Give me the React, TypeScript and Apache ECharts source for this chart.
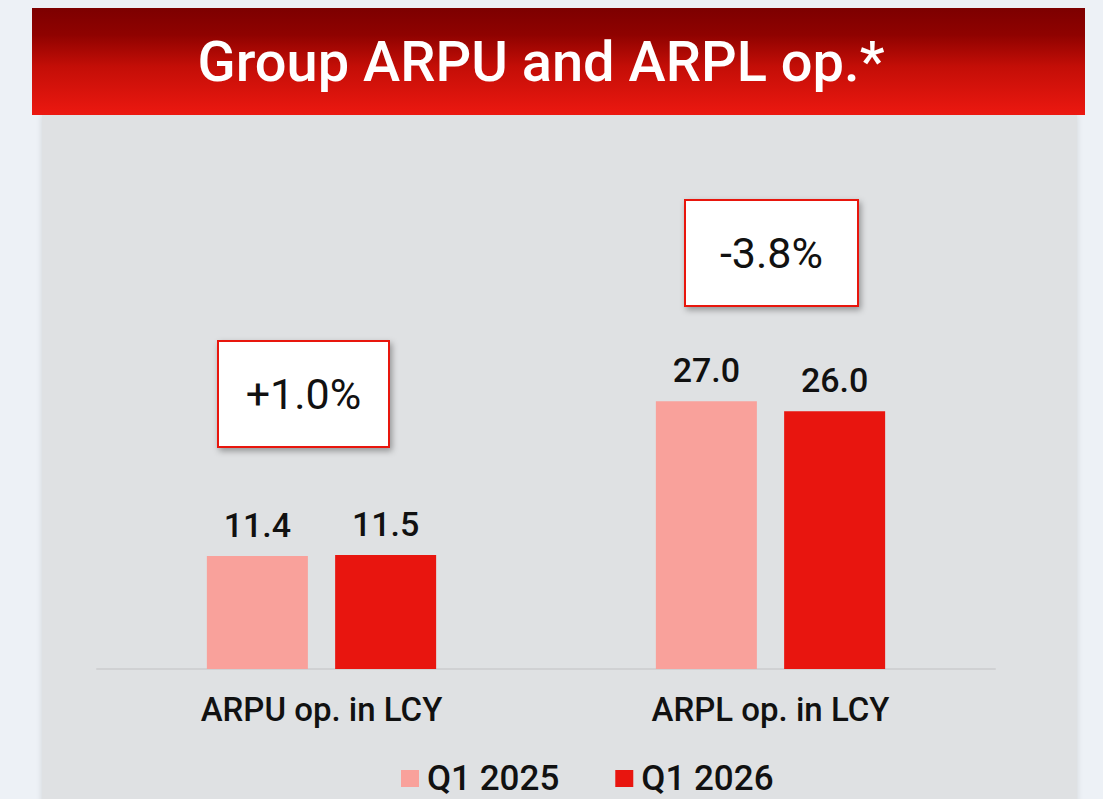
import React, { useEffect, useRef } from "react";
import * as echarts from "echarts";

const categories = ["ARPU op. in LCY", "ARPL op. in LCY"];
const q1_2025 = [11.4, 27.0];
const q1_2026 = [11.5, 26.0];
const changeLabels = ["+1.0%", "-3.8%"];
const seriesNames = ["Q1 2025", "Q1 2026"];
const titleText = "Group ARPU and ARPL op.*";

const LIGHT = "#f9a19b";
const RED = "#e8150f";
const FONT = "Roboto, 'Noto Sans', sans-serif";

export default function App() {
  const ref = useRef<HTMLDivElement>(null);
  useEffect(() => {
    const chart = echarts.init(ref.current!, null, { renderer: "svg" });
    const boxes = [
      { x: 218, y: 341, w: 171, h: 106 },
      { x: 685, y: 200, w: 173, h: 106 },
    ];
    chart.setOption({
      animation: false,
      backgroundColor: "#edf1f6",
      graphic: [
        {
          type: "rect",
          z: -10,
          shape: { x: 42, y: 115, width: 1035, height: 700 },
          style: {
            fill: "#dfe1e3",
            shadowBlur: 6,
            shadowColor: "rgba(0,0,0,0.12)",
            shadowOffsetX: 0,
          },
        },
        {
          type: "rect",
          z: 10,
          shape: { x: 32, y: 8, width: 1053, height: 107 },
          style: {
            fill: new echarts.graphic.LinearGradient(0, 0, 0, 1, [
              { offset: 0, color: "#7d0000" },
              { offset: 0.25, color: "#8f0200" },
              { offset: 0.55, color: "#c40e07" },
              { offset: 1, color: "#ec1810" },
            ]),
          },
        },
        {
          type: "text",
          z: 11,
          x: 541,
          y: 62,
          style: {
            text: titleText,
            fill: "#ffffff",
            font: `500 56px ${FONT}`,
            align: "center",
            verticalAlign: "middle",
          },
        },
        ...boxes.map((b, i) => ({
          type: "group",
          z: 20,
          children: [
            {
              type: "rect",
              shape: { x: b.x, y: b.y, width: b.w, height: b.h },
              style: {
                fill: "#ffffff",
                stroke: RED,
                lineWidth: 2,
                shadowBlur: 6,
                shadowColor: "rgba(0,0,0,0.35)",
                shadowOffsetX: 2,
                shadowOffsetY: 3,
              },
            },
            {
              type: "text",
              x: b.x + b.w / 2,
              y: b.y + b.h / 2,
              style: {
                text: changeLabels[i],
                fill: "#111111",
                font: `400 43px ${FONT}`,
                align: "center",
                verticalAlign: "middle",
              },
            },
          ],
        })),
      ],
      grid: { left: 97, right: 108, top: 74, bottom: 130 },
      xAxis: {
        type: "category",
        data: categories,
        axisLine: { lineStyle: { color: "#d0d1d3", width: 2 } },
        axisTick: { show: false },
        axisLabel: {
          color: "#111111",
          fontFamily: FONT,
          fontWeight: 500,
          fontSize: 33,
          margin: 24,
        },
      },
      yAxis: {
        type: "value",
        min: 0,
        max: 60,
        show: false,
        splitLine: { show: false },
      },
      legend: {
        data: seriesNames,
        left: 396,
        top: 756,
        itemWidth: 18,
        itemHeight: 17,
        itemGap: 56,
        icon: "rect",
        textStyle: {
          color: "#111111",
          fontFamily: FONT,
          fontWeight: 500,
          fontSize: 35,
          padding: [0, 0, 0, 3],
        },
      },
      series: [
        {
          name: seriesNames[0],
          type: "bar",
          data: q1_2025,
          barWidth: 101,
          barGap: "27%",
          itemStyle: { color: LIGHT },
          label: {
            show: true,
            position: "top",
            distance: 14,
            color: "#111111",
            fontFamily: FONT,
            fontWeight: 500,
            fontSize: 34,
            formatter: (p: any) => p.value.toFixed(1),
          },
        },
        {
          name: seriesNames[1],
          type: "bar",
          data: q1_2026,
          barWidth: 101,
          itemStyle: { color: RED },
          label: {
            show: true,
            position: "top",
            distance: 14,
            color: "#111111",
            fontFamily: FONT,
            fontWeight: 500,
            fontSize: 34,
            formatter: (p: any) => p.value.toFixed(1),
          },
        },
      ],
    });
    return () => chart.dispose();
  }, []);
  return (
    <div
      ref={ref}
      style={{ position: "fixed", left: 0, top: 0, width: 1103, height: 799 }}
    />
  );
}
